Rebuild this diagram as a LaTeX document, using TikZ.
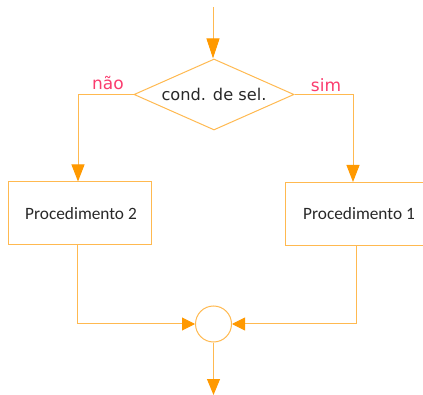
\documentclass[tikz,border=0pt]{standalone}
\usepackage{fontspec}
\setmainfont{DejaVu Sans}
\newfontfamily\calfont{Carlito}
\usetikzlibrary{shapes.geometric,arrows.meta}
\definecolor{lineor}{RGB}{255,185,80}
\definecolor{tipor}{RGB}{255,153,0}
\definecolor{lblpink}{RGB}{250,60,110}
\definecolor{txtgrey}{RGB}{40,40,40}
\tikzset{
  conn/.style={draw=lineor, line width=1pt},
  arr/.style={conn, -{Triangle[length=#1,width=13pt,color=tipor,fill=tipor]}},
  arr/.default=17pt,
  procbox/.style={draw=lineor, line width=1pt, rectangle, minimum height=63pt, inner sep=0pt, font=\calfont\fontsize{17.3}{20}\selectfont, text=txtgrey},
  lbl/.style={font=\fontsize{17}{20}\selectfont, text=lblpink, inner sep=0pt},
}
\begin{document}
\begin{tikzpicture}[x=1pt,y=-1pt]
\useasboundingbox (0,0) rectangle (423,395);
\node[diamond, draw=lineor, line width=1pt, aspect=2.25, minimum width=160pt, minimum height=71pt, inner sep=0pt, font=\fontsize{16.2}{19}\selectfont, text=txtgrey] (d) at (214,94.5) {cond. de sel.};
\node[procbox, minimum width=143pt] (p2) at (79.5,213.5) {\hspace*{3pt}Procedimento 2};
\node[procbox, minimum width=148pt] (p1) at (359,214) {Procedimento 1};
\node[circle, draw=lineor, line width=1pt, minimum size=36pt, inner sep=0pt] (c) at (213.5,324) {};
\coordinate (top) at (213,7);
\coordinate (nl) at (78,94.5);
\coordinate (nr) at (353,94.5);
\coordinate (bl) at (77,324);
\coordinate (br) at (356,324);
\coordinate (bot) at (213.5,395);
\node[lbl] (nao) at (108,83) {não};
\node[lbl] (sim) at (326,85) {sim};
\draw[arr=20pt] (top) -- (top |- d.north);
\draw[arr] (d.west) -- (nl) -- (nl |- p2.north);
\draw[arr] (d.east) -- (nr) -- (nr |- p1.north);
\draw[arr=13pt] (bl |- p2.south) -- (bl) -- (c.west);
\draw[arr=13pt] (br |- p1.south) -- (br) -- (c.east);
\draw[arr=16pt] (c.south) -- (bot);
\end{tikzpicture}
\end{document}
